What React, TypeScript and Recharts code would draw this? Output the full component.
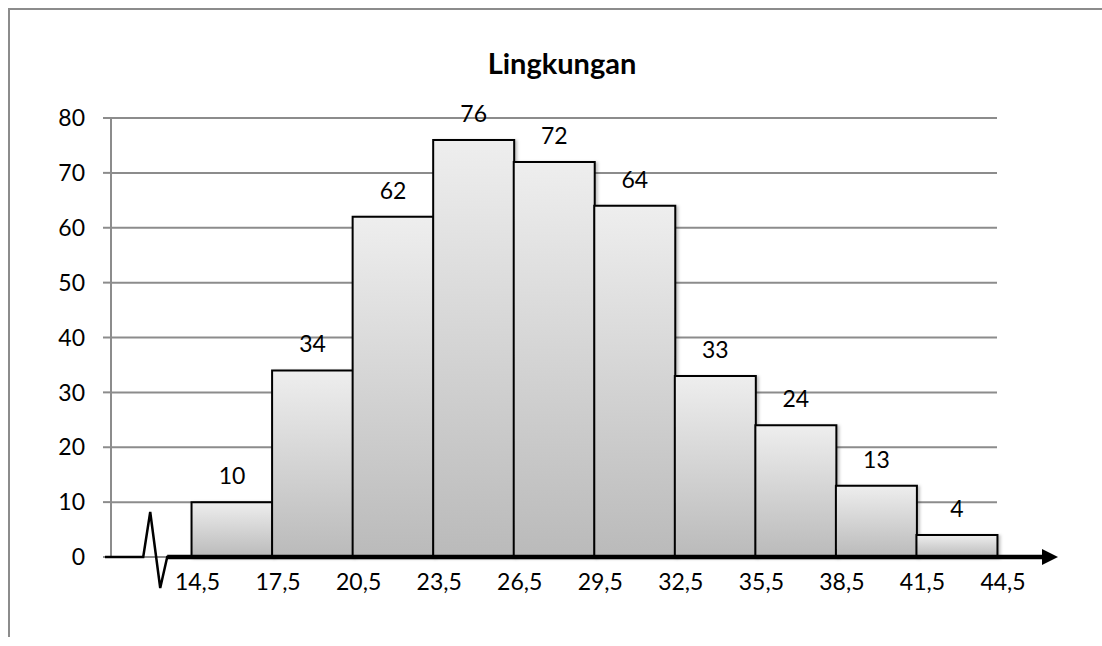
import React from "react";
import {
  Bar,
  BarChart,
  CartesianGrid,
  LabelList,
  XAxis,
  YAxis,
} from "recharts";

// Class boundaries (tick labels) and frequencies per class
const binEdges = [
  "14,5",
  "17,5",
  "20,5",
  "23,5",
  "26,5",
  "29,5",
  "32,5",
  "35,5",
  "38,5",
  "41,5",
  "44,5",
];
const frequencies = [10, 34, 62, 76, 72, 64, 33, 24, 13, 4];
const yTicks = [0, 10, 20, 30, 40, 50, 60, 70, 80];
const chartTitle = "Lingkungan";

const WIDTH = 1102;
const HEIGHT = 646;
const Y_AXIS_WIDTH = 60;
const X_AXIS_HEIGHT = 40;
const MARGIN = { top: 118, right: 105, bottom: 49, left: 51 };
const FONT = "Lato, 'Open Sans', sans-serif";
const FONT_SIZE = 23;

// plot area, derived from margins (used for the axis break overlay)
const plotLeft = MARGIN.left + Y_AXIS_WIDTH;
const plotRight = WIDTH - MARGIN.right;
const plotBottom = HEIGHT - MARGIN.bottom - X_AXIS_HEIGHT;
const band = (plotRight - plotLeft) / (frequencies.length + 1);

// first slot is left empty for the axis break
const table = [
  { cls: "break", pos: 0.5, freq: null as number | null },
  ...frequencies.map((f, i) => ({
    cls: `${binEdges[i]}-${binEdges[i + 1]}`,
    pos: i + 1.5,
    freq: f,
  })),
];

const AxisOverlay: React.FC = () => {
  const y = plotBottom;
  const z0 = plotLeft + band * 0.4;
  const path = [
    `M ${plotLeft - 6} ${y}`,
    `L ${z0} ${y}`,
    `L ${z0 + 7} ${y - 45}`,
    `L ${z0 + 17} ${y + 31}`,
    `L ${z0 + 24} ${y}`,
    `L ${plotRight + 48} ${y}`,
  ].join(" ");
  return (
    <svg
      width={WIDTH}
      height={HEIGHT}
      style={{ position: "absolute", left: 0, top: 0, pointerEvents: "none" }}
    >
      <path d={path} fill="none" stroke="#000" strokeWidth={2.5} />
      <line
        x1={z0 + 24}
        y1={y}
        x2={plotRight + 46}
        y2={y}
        stroke="#000"
        strokeWidth={4.5}
      />
      <polygon
        points={`${plotRight + 45},${y - 8} ${plotRight + 61},${y} ${plotRight + 45},${y + 8}`}
        fill="#000"
      />
      <text
        x={562}
        y={74}
        textAnchor="middle"
        fontSize={29}
        fontWeight={700}
        fill="#000"
        fontFamily={FONT}
      >
        {chartTitle}
      </text>
    </svg>
  );
};

export default function App() {
  return (
    <div
      style={{
        position: "absolute",
        left: 0,
        top: 0,
        width: WIDTH,
        height: HEIGHT,
        background: "#fff",
        fontFamily: FONT,
        overflow: "hidden",
      }}
    >
      {/* chart frame */}
      <div
        style={{
          position: "absolute",
          left: 8,
          top: 8,
          width: WIDTH,
          height: 627,
          borderLeft: "2px solid #8c8c8c",
          borderTop: "2px solid #8c8c8c",
        }}
      />
      <BarChart
        width={WIDTH}
        height={HEIGHT}
        data={table}
        margin={MARGIN}
        barCategoryGap={0}
        barGap={0}
        style={{ position: "absolute", left: 0, top: 0 }}
      >
        <defs>
          <linearGradient id="barFill" x1="0" y1="0" x2="0" y2="1">
            <stop offset="0%" stopColor="#eeeeee" />
            <stop offset="100%" stopColor="#bababa" />
          </linearGradient>
          <filter id="barShadow" x="-10%" y="-10%" width="130%" height="130%">
            <feDropShadow
              dx="2"
              dy="1"
              stdDeviation="1.5"
              floodColor="#000"
              floodOpacity="0.25"
            />
          </filter>
        </defs>
        <CartesianGrid
          xAxisId="bins"
          vertical={false}
          stroke="#8c8c8c"
          strokeWidth={2}
        />
        <XAxis xAxisId="bins" dataKey="cls" type="category" hide height={0} />
        <XAxis
          xAxisId="edges"
          dataKey="pos"
          type="number"
          domain={[0, frequencies.length + 1]}
          ticks={binEdges.map((_, i) => i + 1)}
          tickFormatter={(v: number) => binEdges[v - 1]}
          allowDataOverflow
          axisLine={false}
          tickLine={false}
          tickSize={0}
          tickMargin={17}
          height={X_AXIS_HEIGHT}
          tick={{ fill: "#000", fontSize: FONT_SIZE, fontFamily: FONT, dx: 6 }}
          interval={0}
        />
        <YAxis
          domain={[0, 80]}
          ticks={yTicks}
          width={Y_AXIS_WIDTH}
          axisLine={{ stroke: "#8c8c8c", strokeWidth: 2 }}
          tickLine={{ stroke: "#8c8c8c", strokeWidth: 2 }}
          tickSize={8}
          tickMargin={18}
          tick={{ fill: "#000", fontSize: FONT_SIZE, fontFamily: FONT }}
          interval={0}
        />
        <Bar
          xAxisId="bins"
          dataKey="freq"
          fill="url(#barFill)"
          stroke="#000"
          strokeWidth={2}
          filter="url(#barShadow)"
          isAnimationActive={false}
        >
          <LabelList
            dataKey="freq"
            position="top"
            offset={18}
            fill="#000"
            fontSize={FONT_SIZE}
            fontFamily={FONT}
          />
        </Bar>
      </BarChart>
      <AxisOverlay />
    </div>
  );
}
